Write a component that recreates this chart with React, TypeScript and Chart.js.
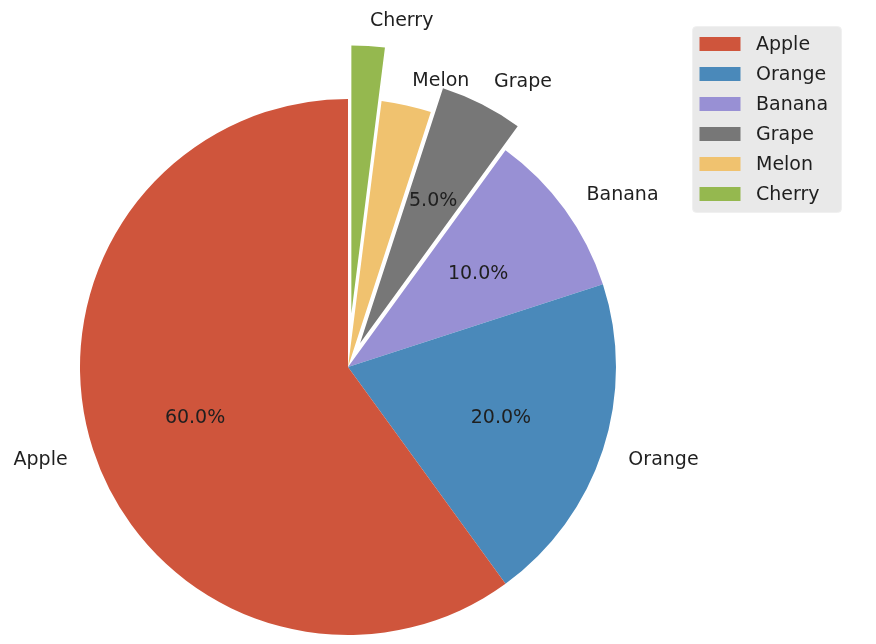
import React, { useEffect, useRef } from "react";
import { Chart, registerables } from "chart.js";

Chart.register(...registerables);

const categories = ["Apple", "Orange", "Banana", "Grape", "Melon", "Cherry"];
const values = [60, 20, 10, 5, 3, 2];
const explode = [0, 0, 0, 0.1, 0, 0.2];
const colors = ["#CF553C", "#4A89BA", "#9890D4", "#777777", "#F0C26F", "#95B84F"];

const FONT = "19px 'DejaVu Sans'";
const TEXT_COLOR = "#1f1f1f";
const RADIUS = 268;
const TEXT_DY = 1.5;

export default function App() {
  const ref = useRef<HTMLCanvasElement | null>(null);

  useEffect(() => {
    if (!ref.current) return;
    // Chart.js draws clockwise; matplotlib counterclockwise -> reverse order
    const labels = [...categories].reverse();
    const data = [...values].reverse();
    const bg = [...colors].reverse();
    const ex = [...explode].reverse();
    const total = values.reduce((a, b) => a + b, 0);

    const shift = (arc: any, i: number) => {
      const half = (arc.startAngle + arc.endAngle) / 2;
      const off = ex[i] * arc.outerRadius;
      return { dx: Math.cos(half) * off, dy: Math.sin(half) * off, half };
    };

    const explodePlugin = {
      id: "explode",
      beforeDatasetDraw(chart: any, args: any) {
        const meta = chart.getDatasetMeta(args.index);
        const ctx = chart.ctx;
        meta.data.forEach((arc: any, i: number) => {
          const { dx, dy } = shift(arc, i);
          ctx.save();
          ctx.translate(dx, dy);
          arc.draw(ctx);
          ctx.restore();
        });
        return false;
      },
      afterDatasetsDraw(chart: any) {
        const meta = chart.getDatasetMeta(0);
        const ctx = chart.ctx;
        ctx.save();
        ctx.font = FONT;
        ctx.fillStyle = TEXT_COLOR;
        ctx.textBaseline = "middle";
        meta.data.forEach((arc: any, i: number) => {
          const { dx, dy, half } = shift(arc, i);
          const cx = arc.x + dx;
          const cy = arc.y + dy;
          const r = arc.outerRadius;
          const lx = cx + Math.cos(half) * r * 1.1;
          const ly = cy + Math.sin(half) * r * 1.1;
          ctx.textAlign = Math.cos(half) > 0 ? "left" : "right";
          ctx.fillText(labels[i], lx, ly + TEXT_DY);
          const pct = (data[i] / total) * 100;
          if (pct >= 5) {
            ctx.textAlign = "center";
            ctx.fillText(pct.toFixed(1) + "%", cx + Math.cos(half) * r * 0.6, cy + Math.sin(half) * r * 0.6 + TEXT_DY);
          }
        });
        ctx.restore();
      },
    };

    const legendPlugin = {
      id: "boxLegend",
      afterDraw(chart: any) {
        const ctx = chart.ctx;
        ctx.save();
        const x = 692.5, y = 26.5, w = 149, h = 186, rr = 4;
        ctx.beginPath();
        ctx.moveTo(x + rr, y);
        ctx.arcTo(x + w, y, x + w, y + h, rr);
        ctx.arcTo(x + w, y + h, x, y + h, rr);
        ctx.arcTo(x, y + h, x, y, rr);
        ctx.arcTo(x, y, x + w, y, rr);
        ctx.closePath();
        ctx.fillStyle = "#E9E9E9";
        ctx.fill();
        ctx.strokeStyle = "#F0F0F0";
        ctx.lineWidth = 1;
        ctx.stroke();
        ctx.font = FONT;
        ctx.textBaseline = "middle";
        ctx.textAlign = "left";
        categories.forEach((c, i) => {
          const cy = 44 + i * 30;
          ctx.fillStyle = colors[i];
          ctx.fillRect(699.5, cy - 7, 41, 14);
          ctx.fillStyle = TEXT_COLOR;
          ctx.fillText(c, 756, cy + TEXT_DY);
        });
        ctx.restore();
      },
    };

    const chart = new Chart(ref.current, {
      type: "pie",
      data: {
        labels,
        datasets: [
          {
            data,
            backgroundColor: bg,
            borderWidth: 0,
          },
        ],
      },
      options: {
        animation: false,
        responsive: true,
        maintainAspectRatio: false,
        radius: RADIUS,
        layout: { padding: { left: 0, right: 180, top: 90, bottom: 0 } },
        plugins: {
          legend: { display: false },
          tooltip: { enabled: false },
        },
      } as any,
      plugins: [explodePlugin, legendPlugin],
    });
    return () => chart.destroy();
  }, []);

  return (
    <div style={{ position: "fixed", left: 0, top: 0, width: 876, height: 644, background: "#fff" }}>
      <canvas ref={ref} />
    </div>
  );
}
